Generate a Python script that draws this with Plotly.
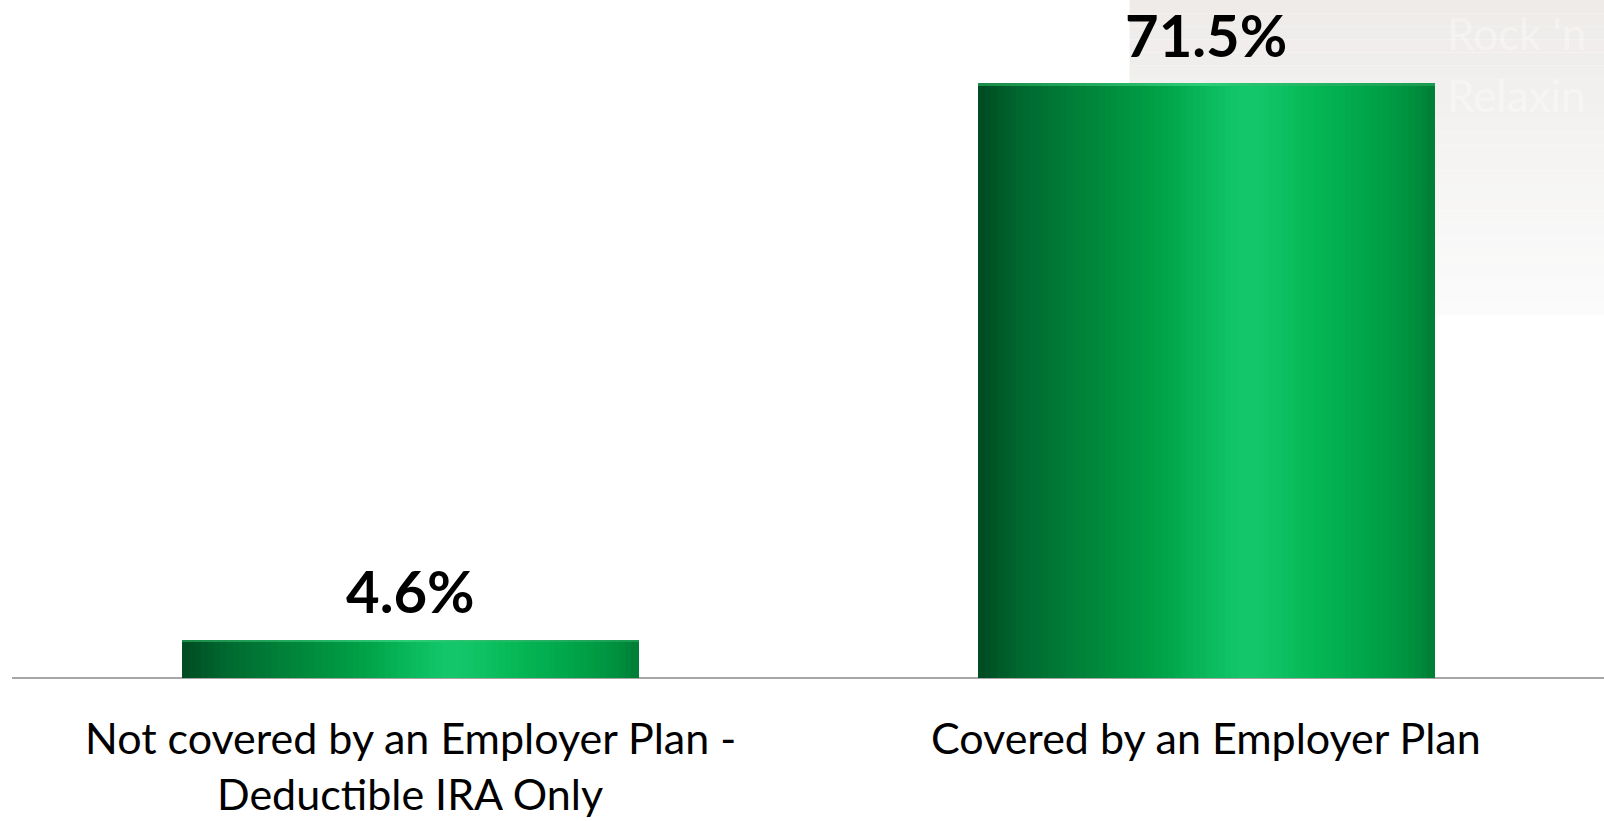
import plotly.graph_objects as go
from plotly.colors import sample_colorscale

# Data
category_lines = [
    ["Not covered by an Employer Plan -", "Deductible IRA Only"],
    ["Covered by an Employer Plan"],
]
values = [4.6, 71.5]
value_labels = ["4.6%", "71.5%"]

# Styling
BAR_WIDTH = 0.572
N_STRIPS = 72
Y_MAX = 81.5
CAP = 0.3  # thin highlight rim at the top of each bar, in data units
shade_stops = [
    [0.00, "#004a22"], [0.10, "#006a30"], [0.25, "#00863a"],
    [0.40, "#00a247"], [0.52, "#0bbd5f"], [0.58, "#14c76b"],
    [0.64, "#10c466"], [0.72, "#06b957"], [0.85, "#00a64a"],
    [0.95, "#00923f"], [1.00, "#007d36"],
]
rim_stops = [[0.0, "#1a8a48"], [0.5, "#2ccd77"], [1.0, "#1a9a50"]]
FONT = "Lato"

x_pos = list(range(len(values)))
fig = go.Figure()

# Cylinder shading: each bar is built from narrow vertical strips
strip_w = BAR_WIDTH / N_STRIPS
fracs = [(i + 0.5) / N_STRIPS for i in range(N_STRIPS)]
strip_colors = sample_colorscale(shade_stops, fracs)
rim_colors = sample_colorscale(rim_stops, fracs)
for i, (col, rcol) in enumerate(zip(strip_colors, rim_colors)):
    off = -BAR_WIDTH / 2 + i * strip_w
    fig.add_trace(go.Bar(
        x=x_pos, y=values, width=strip_w * 1.15, offset=off,
        marker=dict(color=col, line=dict(width=0)),
        hoverinfo="skip", showlegend=False,
    ))
    fig.add_trace(go.Bar(
        x=x_pos, y=[CAP] * len(values), base=[v - CAP for v in values],
        width=strip_w * 1.15, offset=off,
        marker=dict(color=rcol, line=dict(width=0)),
        hoverinfo="skip", showlegend=False,
    ))

# Value labels above the bars
for xi, v, lab in zip(x_pos, values, value_labels):
    fig.add_annotation(x=xi, y=v, text=f"<b>{lab}</b>", showarrow=False,
                       yanchor="middle", yshift=49,
                       font=dict(family=FONT, size=58, color="#000000"))

# Category labels beneath the axis
for xi, lines in zip(x_pos, category_lines):
    for k, line in enumerate(lines):
        fig.add_annotation(x=xi, y=0, text=line, showarrow=False,
                           yanchor="middle", yshift=-59 - 56 * k,
                           font=dict(family=FONT, size=43, color="#000000"))

# Faint backdrop panel in the upper right
n_bands = 24
band_colors = sample_colorscale([[0, "#eeebe9"], [0.5, "#f5f4f3"], [1, "#fbfbfb"]],
                                [i / (n_bands - 1) for i in range(n_bands)])
y_top, y_bot = 1.0, 0.535
for i, col in enumerate(band_colors):
    fig.add_shape(type="rect", xref="paper", yref="paper",
                  x0=0.702, x1=1.01,
                  y0=y_top - (i + 1) * (y_top - y_bot) / n_bands,
                  y1=y_top - i * (y_top - y_bot) / n_bands,
                  fillcolor=col, line=dict(width=0), layer="below")
for txt, yp in [("Rock 'n", 0.952), ("Relaxin", 0.86)]:
    fig.add_annotation(xref="paper", yref="paper", x=0.9, y=yp, text=txt,
                       showarrow=False, xanchor="left", yanchor="middle",
                       font=dict(family=FONT, size=44, color="rgba(255,255,255,0.35)"))

fig.update_layout(
    width=1604, height=821,
    margin=dict(l=12, r=0, t=0, b=143),
    paper_bgcolor="white", plot_bgcolor="rgba(0,0,0,0)",
    barmode="overlay", bargap=0,
    xaxis=dict(range=[-0.5, 1.5], showticklabels=False, showgrid=False,
               zeroline=False, showline=False, ticks=""),
    yaxis=dict(range=[0, Y_MAX], showticklabels=False, showgrid=False,
               zeroline=True, zerolinecolor="#a6a6a6", zerolinewidth=2,
               showline=False, ticks=""),
)

fig.write_html("out.html")
